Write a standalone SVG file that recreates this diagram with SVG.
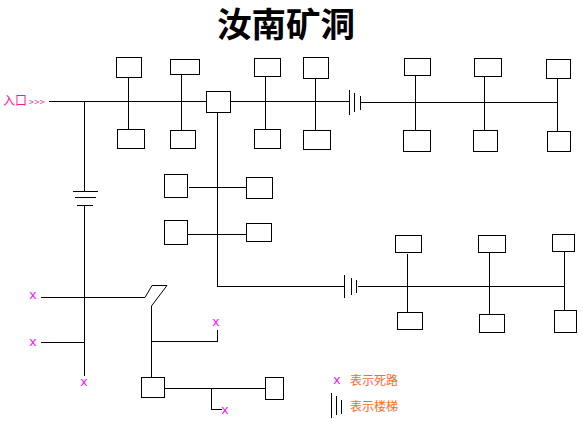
<svg xmlns="http://www.w3.org/2000/svg" width="583" height="425" viewBox="0 0 583 425">
<style>
.b{fill:#fff;stroke:#000;stroke-width:1;shape-rendering:crispEdges}
.l{fill:none;stroke:#000;stroke-width:1;shape-rendering:crispEdges}
.d{fill:none;stroke:#000;stroke-width:1}
.x{font-family:"Liberation Mono",monospace;font-size:13px;font-weight:normal;fill:#ff00ff;text-anchor:middle}
.t{font-family:"Noto Sans CJK SC",sans-serif;font-size:12px;fill:#ff6a21}
.e{font-family:"Noto Sans CJK SC",sans-serif;font-size:12px;fill:#ff1493}
.g{font-size:9px;letter-spacing:.4px}
.h{font-family:"Noto Sans CJK SC",sans-serif;font-size:34.5px;font-weight:bold;fill:#000}
</style>
<rect width="583" height="425" fill="#fff"/>
<g id="connectors">
<path class="l" d="M49 101.5H206M231 101.5H349M84.5 101V191M84.5 205.5V376M128.5 77V130M181.5 74V131M265.5 75V130M315.5 77V131"/>
<path class="l" d="M73 191.5H98M75 197.5H96M77 205.5H93"/>
<path class="l" d="M217.5 112V286.5H344M189 187.5H247M187 234.5H247"/>
<path class="l" d="M349.5 90V115M354.5 93V112M360.5 96V110M361 102.5H557M415.5 75V131M484.5 76V131M557.5 77V133"/>
<path class="l" d="M344.5 275V298M351.5 278V295M356.5 280V293M358 286.5H564M407.5 254V313M489.5 252V315M564.5 251V312"/>
<path class="l" d="M41 297.5H145M152 285.5H167M41 342.5H84M151.5 306V379M151.5 341.5H217.5V330M164 388.5H266M211.5 388.5V409.5H222"/>
<path class="d" d="M145 297.5L152 285.5M167 285.5L151.5 306"/>
</g>
<g id="title"><text class="h" x="217" y="37">汝南矿洞</text></g>
<g id="entrance"><text class="e" x="3" y="105">入口<tspan class="g" dx="2">&gt;&gt;&gt;</tspan></text></g>
<g id="n1"><rect class="b" x="116.5" y="57.5" width="25" height="20"/></g>
<g id="n2"><rect class="b" x="117.5" y="129.5" width="27" height="19"/></g>
<g id="n3"><rect class="b" x="170.5" y="59.5" width="29" height="15"/></g>
<g id="n4"><rect class="b" x="170.5" y="130.5" width="25" height="18"/></g>
<g id="n5"><rect class="b" x="254.5" y="58.5" width="26" height="18"/></g>
<g id="n6"><rect class="b" x="254.5" y="129.5" width="26" height="19"/></g>
<g id="n7"><rect class="b" x="206.5" y="91.5" width="24" height="21"/></g>
<g id="n8"><rect class="b" x="303.5" y="57.5" width="25" height="21"/></g>
<g id="n9"><rect class="b" x="303.5" y="130.5" width="27" height="19"/></g>
<g id="n10"><rect class="b" x="404.5" y="58.5" width="26" height="17"/></g>
<g id="n11"><rect class="b" x="403.5" y="130.5" width="27" height="21"/></g>
<g id="n12"><rect class="b" x="474.5" y="58.5" width="27" height="18"/></g>
<g id="n13"><rect class="b" x="473.5" y="130.5" width="24" height="21"/></g>
<g id="n14"><rect class="b" x="546.5" y="59.5" width="24" height="19"/></g>
<g id="n15"><rect class="b" x="547.5" y="131.5" width="23" height="20"/></g>
<g id="n16"><rect class="b" x="164.5" y="174.5" width="23" height="23"/></g>
<g id="n17"><rect class="b" x="246.5" y="177.5" width="26" height="21"/></g>
<g id="n18"><rect class="b" x="164.5" y="220.5" width="23" height="24"/></g>
<g id="n19"><rect class="b" x="246.5" y="223.5" width="25" height="18"/></g>
<g id="n20"><rect class="b" x="395.5" y="235.5" width="26" height="17"/></g>
<g id="n21"><rect class="b" x="397.5" y="312.5" width="25" height="17"/></g>
<g id="n22"><rect class="b" x="478.5" y="235.5" width="27" height="17"/></g>
<g id="n23"><rect class="b" x="479.5" y="314.5" width="25" height="18"/></g>
<g id="n24"><rect class="b" x="552.5" y="234.5" width="22" height="17"/></g>
<g id="n25"><rect class="b" x="554.5" y="310.5" width="22" height="22"/></g>
<g id="n26"><rect class="b" x="141.5" y="377.5" width="23" height="20"/></g>
<g id="n27"><rect class="b" x="265.5" y="377.5" width="18" height="22"/></g>
<g id="deadends">
<text class="x" x="33" y="299">x</text>
<text class="x" x="33" y="346">x</text>
<text class="x" x="84" y="386">x</text>
<text class="x" x="216" y="326">x</text>
<text class="x" x="225" y="414">x</text>
</g>
<g id="legend">
<text class="x" x="337" y="384">x</text>
<text class="t" x="350" y="385">表示死路</text>
<path class="l" d="M331.5 393V418M336.5 396V415M341.5 400V414"/>
<text class="t" x="350" y="411">表示楼梯</text>
</g>
</svg>
